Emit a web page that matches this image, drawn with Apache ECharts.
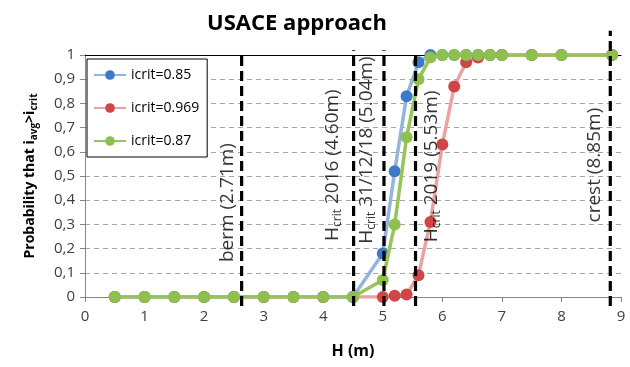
<!DOCTYPE html>
<html>
<head>
<meta charset="utf-8">
<script src="https://cdn.jsdelivr.net/npm/echarts@6/dist/echarts.min.js"></script>
<style>html,body{margin:0;padding:0;background:#fff}#c{width:630px;height:367px}</style>
</head>
<body>
<div id="c"></div>
<script>
// ---- data ----
var hValues = [0.5, 1, 1.5, 2, 2.5, 3, 3.5, 4, 4.5, 5.0, 5.2, 5.4, 5.6, 5.8, 6.0, 6.2, 6.4, 6.6, 6.8, 7.0, 7.5, 8.0, 8.85];
var pIcrit085  = [0, 0, 0, 0, 0, 0, 0, 0, 0, 0.18, 0.52, 0.83, 0.97, 1, 1, 1, 1, 1, 1, 1, 1, 1, 1];
var pIcrit0969 = [0, 0, 0, 0, 0, 0, 0, 0, 0, 0, 0.005, 0.01, 0.09, 0.31, 0.63, 0.87, 0.97, 0.99, 1, 1, 1, 1, 1];
var pIcrit087  = [0, 0, 0, 0, 0, 0, 0, 0, 0, 0.07, 0.30, 0.66, 0.90, 0.99, 1, 1, 1, 1, 1, 1, 1, 1, 1];
var seriesNames = ['icrit=0.85', 'icrit=0.969', 'icrit=0.87'];
// reference lines as drawn in the picture (labels carry the nominal values)
var refLineX = [2.63, 4.51, 5.02, 5.55, 8.82];
var refLabels = ['berm (2.71m)', 'H{s|crit} 2016 (4.60m)', 'H{s|crit} 31/12/18 (5.04m)', 'H{s|crit} 2019 (5.53m)', 'crest (8.85m)'];
var xTicks = [0, 1, 2, 3, 4, 5, 6, 7, 8, 9];
var yTicks = ['0', '0,1', '0,2', '0,3', '0,4', '0,5', '0,6', '0,7', '0,8', '0,9', '1'];

// ---- layout for annotations (label anchor positions in data units) ----
var labelAnchors = [[2.40, 0.39], [4.16, 0.545], [4.73, 0.607], [5.82, 0.54], [8.56, 0.545]];
var refLineBottom = -0.037;
var refLineTop = [1, 1.02, 1.02, 1, 1.1];

function pairs(ys) { return hValues.map(function (x, i) { return [x, ys[i]]; }); }

var FONT = 'Open Sans';
var chart = echarts.init(document.getElementById('c'), null, { renderer: 'canvas' });

var option = {
  animation: false,
  backgroundColor: '#fff',
  textStyle: { fontFamily: FONT },
  title: {
    text: 'USACE approach',
    left: 292, top: 8, textAlign: 'center',
    textStyle: { fontFamily: FONT, fontWeight: 'bold', fontSize: 22, color: '#000' }
  },
  grid: { left: 85, top: 55, width: 536, height: 242, containLabel: false },
  legend: {
    data: seriesNames,
    orient: 'vertical',
    left: 87, top: 59,
    padding: [9, 8, 9, 6],
    itemGap: 19, itemWidth: 32, itemHeight: 12,
    borderColor: '#000', borderWidth: 1, backgroundColor: '#fff',
    textStyle: { fontFamily: FONT, fontSize: 14, color: '#000' }
  },
  xAxis: [{
    type: 'value', min: 0, max: 9, interval: 1,
    name: 'H (m)', nameLocation: 'middle', nameGap: 46,
    nameTextStyle: { fontFamily: FONT, fontWeight: 'bold', fontSize: 16, color: '#000' },
    axisLine: { lineStyle: { color: '#868686', width: 1 } },
    axisTick: { show: true, length: 5, lineStyle: { color: '#868686' } },
    axisLabel: { fontFamily: FONT, fontSize: 15, color: '#404040', margin: 12,
      formatter: function (v) { return xTicks.indexOf(v) >= 0 ? String(v) : ''; } },
    splitLine: { show: false }
  }, {
    type: 'value', min: 0, max: 9, position: 'top',
    axisLine: { show: true, onZero: false, lineStyle: { color: '#000', width: 1 } },
    axisTick: { show: false }, axisLabel: { show: false }, splitLine: { show: false }
  }],
  yAxis: [{
    type: 'value', min: 0, max: 1, interval: 0.1,
    name: 'Probability that i{s|avg}>i{s|crit}',
    nameLocation: 'middle', nameGap: 46, nameRotate: 90,
    nameTextStyle: {
      fontFamily: FONT, fontWeight: 'bold', fontSize: 14, color: '#000',
      rich: { s: { fontFamily: FONT, fontWeight: 'bold', fontSize: 10, color: '#000', verticalAlign: 'bottom', padding: [7, 0, 0, 0] } }
    },
    axisLine: { show: true, lineStyle: { color: '#868686', width: 1 } },
    axisTick: { show: true, length: 5, lineStyle: { color: '#868686' } },
    axisLabel: { fontFamily: FONT, fontSize: 15, color: '#404040', margin: 10,
      formatter: function (v) { return yTicks[Math.round(v * 10)]; } },
    splitLine: { show: true, lineStyle: { color: '#a6a6a6', type: [5, 4], width: 1 } }
  }, {
    type: 'value', min: 0, max: 1, position: 'right',
    axisLine: { show: true, lineStyle: { color: '#868686', width: 1 } },
    axisTick: { show: false }, axisLabel: { show: false }, splitLine: { show: false }
  }],
  series: [
    {
      name: seriesNames[0], type: 'line', data: pairs(pIcrit085),
      symbol: 'circle', symbolSize: 12, z: 3,
      itemStyle: { color: '#3b7bc6' },
      lineStyle: { color: '#95b4da', width: 3.5 }
    },
    {
      name: seriesNames[1], type: 'line', data: pairs(pIcrit0969),
      symbol: 'circle', symbolSize: 12, z: 4,
      itemStyle: { color: '#d04646' },
      lineStyle: { color: '#e9a3a3', width: 3.5 }
    },
    {
      name: seriesNames[2], type: 'line', data: pairs(pIcrit087),
      symbol: 'circle', symbolSize: 12, z: 5,
      itemStyle: { color: '#8dc04e' },
      lineStyle: { color: '#95c45a', width: 3.5 }
    },
    {
      name: 'refLines', type: 'custom', z: 6, silent: true, clip: false,
      data: refLineX.map(function (x, i) { return [x, refLineTop[i]]; }),
      renderItem: function (params, api) {
        var x = api.value(0), top = api.value(1);
        var p0 = api.coord([x, refLineBottom]);
        var p1 = api.coord([x, top]);
        return {
          type: 'line',
          shape: { x1: p0[0], y1: p0[1], x2: p1[0], y2: p1[1] },
          style: { stroke: '#000', lineWidth: 3.2, lineDash: [10, 5], fill: null }
        };
      }
    },
    {
      name: 'refLabels', type: 'scatter', z: 7, silent: true,
      symbolSize: 0,
      data: labelAnchors.map(function (p, i) { return { value: p, label: { formatter: refLabels[i] } }; }),
      label: {
        show: true, position: 'inside', rotate: 90, align: 'center', verticalAlign: 'middle',
        fontFamily: FONT, fontSize: 19, color: '#000',
        rich: { s: { fontFamily: FONT, fontSize: 12, color: '#000', verticalAlign: 'bottom', padding: [9, 0, 0, 0] } }
      }
    }
  ]
};
chart.setOption(option);
</script>
</body>
</html>
